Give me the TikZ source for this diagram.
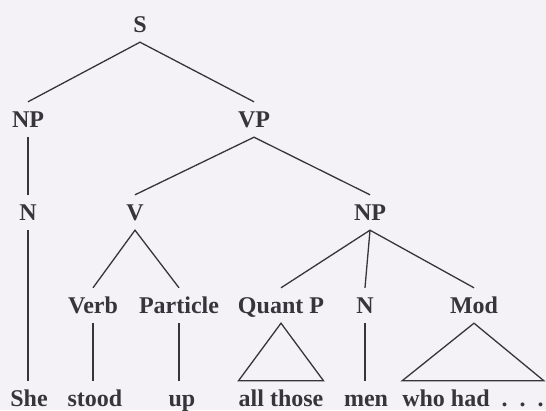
\documentclass[tikz,border=0pt]{standalone}
\usepackage{fontspec}
\setmainfont{Liberation Serif}
\definecolor{paper}{RGB}{244,242,247}
\definecolor{ink}{RGB}{55,53,60}

\begin{document}
\begin{tikzpicture}[x=1pt,y=-1pt,
  lbl/.style={anchor=base,text=ink,font=\fontsize{24}{28}\selectfont\bfseries,inner xsep=0pt,inner ysep=5pt,text height=20pt,text depth=5pt},
  branch/.style={draw=ink,line width=1.3pt}]
\fill[paper] (0,0) rectangle (546,410);
\useasboundingbox (0,0) rectangle (546,410);
\node[lbl] (s) at (140,32) {S};
\node[lbl] (np) at (28,127) {NP};
\node[lbl] (vp) at (254,127) {VP};
\node[lbl] (n) at (28,220) {N};
\node[lbl] (v) at (135,220) {V};
\node[lbl] (npobj) at (370,220) {NP};
\node[lbl] (verb) at (93,313) {Verb};
\node[lbl] (particle) at (179,313) {Particle};
\node[lbl] (quantp) at (281,313) {Quant P};
\node[lbl] (nobj) at (365,313) {N};
\node[lbl] (mod) at (474,313) {Mod};
\node[lbl] (she) at (29,406) {She};
\node[lbl] (stood) at (95,406) {stood};
\node[lbl] (up) at (182,406) {up};
\node[lbl] (allthose) at (281,406) {all those};
\node[lbl] (men) at (366,406) {men};
\node[lbl] (whohad) at (473,406) {who had\enspace.\enspace.\enspace.};
\draw[branch] (np.north) -- (s.south) -- (vp.north);
\draw[branch] (np.south) -- (n.north);
\draw[branch] (n.south) -- (n.south |- she.north);
\draw[branch] (v.north) -- (vp.south) -- (npobj.north);
\draw[branch] (verb.north) -- (v.south) -- (particle.north);
\draw[branch] (verb.south) -- (verb.south |- stood.north);
\draw[branch] (particle.south) -- (particle.south |- up.north);
\draw[branch] (quantp.north) -- (npobj.south) -- (mod.north);
\draw[branch] (npobj.south) -- (nobj.north);
\draw[branch] (nobj.south) -- (nobj.south |- men.north);
\draw[branch] (quantp.south) -- (allthose.north west) -- (allthose.north east) -- cycle;
\draw[branch] (mod.south) -- (whohad.north west) -- (whohad.north east) -- cycle;
\end{tikzpicture}
\end{document}
